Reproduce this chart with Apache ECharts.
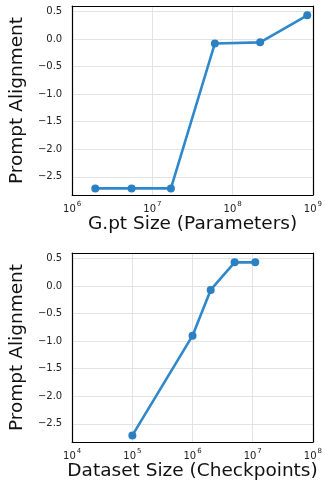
<!DOCTYPE html>
<html>
<head>
<meta charset="utf-8">
<script src="https://cdn.jsdelivr.net/npm/echarts@6/dist/echarts.min.js"></script>
<style>
  html, body { margin: 0; padding: 0; background: #fff; }
  #chart { width: 325px; height: 485px; }
</style>
</head>
<body>
<div id="chart"></div>
<script>
// G.pt size sweep (parameters vs prompt alignment)
const paramSizes = [1.94e6, 5.5e6, 1.7e7, 6.0e7, 2.2e8, 8.5e8];
const paramAlignment = [-2.71, -2.71, -2.71, -0.08, -0.06, 0.43];

// dataset size sweep (checkpoints vs prompt alignment)
const datasetSizes = [1e5, 1e6, 2e6, 5e6, 1.1e7];
const datasetAlignment = [-2.71, -0.9, -0.07, 0.43, 0.43];

const yLabel = "Prompt Alignment";
const xLabels = ["G.pt Size (Parameters)", "Dataset Size (Checkpoints)"];

const FONT = "DejaVu Sans";
const LINE = "#2f88cb";
const Y_MIN = -2.83, Y_MAX = 0.6;

const chart = echarts.init(document.getElementById("chart"));

const powLabel = (v) => {
  const e = Math.round(Math.log10(v));
  return "{b|10}{s|" + e + "}";
};

const frameLine = { show: true, onZero: false, lineStyle: { color: "#000", width: 1.2 } };

const xAxisFor = (gridIndex, min, max, name) => ({
  type: "log",
  logBase: 10,
  gridIndex: gridIndex,
  position: "bottom",
  min: min,
  max: max,
  name: name,
  nameLocation: "middle",
  nameGap: 18,
  nameTextStyle: { fontFamily: FONT, fontSize: 18.5, color: "#111" },
  axisLine: frameLine,
  axisTick: { show: false },
  minorTick: { show: false },
  splitLine: { show: true, lineStyle: { color: "#e3e3e3", width: 1 } },
  axisLabel: {
    margin: 6,
    formatter: powLabel,
    rich: {
      b: { fontFamily: FONT, fontSize: 10, color: "#222", lineHeight: 13, verticalAlign: "bottom" },
      s: { fontFamily: FONT, fontSize: 7, color: "#222", lineHeight: 13, verticalAlign: "top", padding: [0, 0, 0, 1] },
    },
  },
});

// plain axis used only to close the frame on the top side
const topFrame = (gridIndex, min, max) => ({
  type: "log",
  logBase: 10,
  gridIndex: gridIndex,
  position: "top",
  min: min,
  max: max,
  axisLine: frameLine,
  axisTick: { show: false },
  axisLabel: { show: false },
  splitLine: { show: false },
});

const yAxisFor = (gridIndex) => ({
  type: "value",
  gridIndex: gridIndex,
  position: "left",
  min: Y_MIN,
  max: Y_MAX,
  splitNumber: 6,
  name: yLabel,
  nameLocation: "middle",
  nameGap: 42,
  nameTextStyle: { fontFamily: FONT, fontSize: 18.5, color: "#111" },
  axisLine: frameLine,
  axisTick: { show: false },
  splitLine: { show: true, lineStyle: { color: "#e3e3e3", width: 1 } },
  axisLabel: {
    margin: 10,
    showMinLabel: false,
    showMaxLabel: false,
    fontFamily: FONT,
    fontSize: 10,
    color: "#222",
    formatter: (v) => v.toFixed(1).replace("-", "\u2212"),
  },
});

const rightFrame = (gridIndex) => ({
  type: "value",
  gridIndex: gridIndex,
  position: "right",
  min: Y_MIN,
  max: Y_MAX,
  axisLine: frameLine,
  axisTick: { show: false },
  axisLabel: { show: false },
  splitLine: { show: false },
});

const lineSeries = (idx, xs, ys) => ({
  type: "line",
  xAxisIndex: idx,
  yAxisIndex: idx,
  data: xs.map((x, i) => [x, ys[i]]),
  symbol: "circle",
  symbolSize: 8,
  lineStyle: { color: LINE, width: 2.6 },
  itemStyle: { color: "#2b80c2" },
  animation: false,
});

const option = {
  backgroundColor: "#fff",
  grid: [
    { left: 70, right: 11, top: 6, height: 189 },
    { left: 70, right: 11, top: 253, height: 189 },
  ],
  xAxis: [
    xAxisFor(0, 1e6, 1e9, xLabels[0]),
    xAxisFor(1, 1e4, 1e8, xLabels[1]),
    topFrame(0, 1e6, 1e9),
    topFrame(1, 1e4, 1e8),
  ],
  yAxis: [yAxisFor(0), yAxisFor(1), rightFrame(0), rightFrame(1)],
  series: [
    lineSeries(0, paramSizes, paramAlignment),
    lineSeries(1, datasetSizes, datasetAlignment),
  ],
};

chart.setOption(option);
</script>
</body>
</html>
